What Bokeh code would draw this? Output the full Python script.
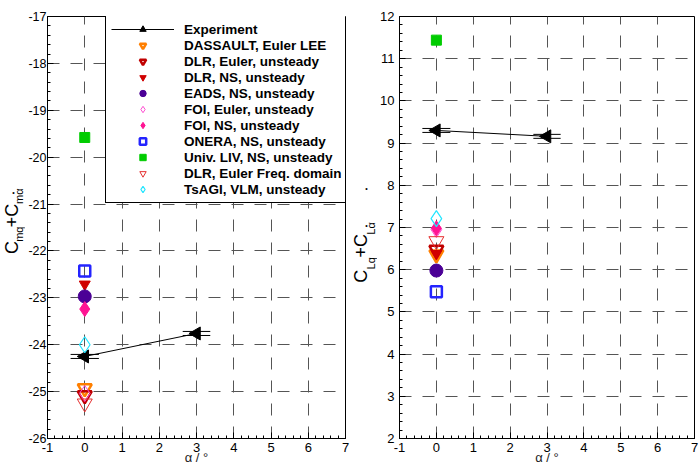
import math
import numpy as np
from bokeh.plotting import figure
from bokeh.layouts import row
from bokeh.models import FixedTicker, Legend, LegendItem, Label, Range1d
from bokeh.embed import file_html
from bokeh.resources import INLINE

# ---------------- data ----------------
alpha_ticks = [-1, 0, 1, 2, 3, 4, 5, 6, 7]
alpha_tick_labels = ["-1", "0", "1", "2", "3", "4", "5", "6", "7"]
cm_ticks = [-26, -25, -24, -23, -22, -21, -20, -19, -18, -17]
cm_tick_labels = ["-26", "-25", "-24", "-23", "-22", "-21", "-20", "-19", "-18", "-17"]
cl_ticks = [2, 3, 4, 5, 6, 7, 8, 9, 10, 11, 12]
cl_tick_labels = ["2", "3", "4", "5", "6", "7", "8", "9", "10", "11", "12"]

series_names = [
    "DASSAULT, Euler LEE",
    "DLR, Euler, unsteady",
    "DLR, NS, unsteady",
    "EADS, NS, unsteady",
    "FOI, Euler, unsteady",
    "FOI, NS, unsteady",
    "ONERA, NS, unsteady",
    "Univ. LIV, NS, unsteady",
    "DLR, Euler Freq. domain",
    "TsAGI, VLM, unsteady",
]
series_alpha = [0, 0, 0, 0, 0, 0, 0, 0, 0, 0]
cm_values = [-24.93, -25.08, -22.71, -22.97, -25.04, -23.24, -22.43, -19.58, -25.25, -24.00]
cl_values = [6.36, 6.47, 6.38, 5.98, 6.95, 6.98, 5.48, 11.44, 6.68, 7.21]

exp_alpha = [0.0, 3.0]
exp_cm = [-24.25, -23.76]
exp_cl = [9.30, 9.16]
exp_alpha_halfrange = [0.38, 0.37]

# ---------------- styles ----------------
styles = [
    dict(marker="inverted_triangle", line_color="#FF7F00", fill_color=None, line_width=2.5, size=14),
    dict(marker="inverted_triangle", line_color="#C00000", fill_color=None, line_width=2.5, size=14),
    dict(marker="inverted_triangle", line_color="#D00000", fill_color="#D00000", line_width=1, size=11),
    dict(marker="circle", line_color="#4B0096", fill_color="#4B0096", line_width=1, size=13),
    dict(marker="diamond", line_color="#FF4DD2", fill_color=None, line_width=1, size=16),
    dict(marker="diamond", line_color="#FF1493", fill_color="#FF1493", line_width=1, size=15),
    dict(marker="square", line_color="#2424FF", fill_color=None, line_width=2.5, size=11),
    dict(marker="square", line_color="#00CC00", fill_color="#00CC00", line_width=1, size=10),
    dict(marker="inverted_triangle", line_color="#E53030", fill_color=None, line_width=1, size=15),
    dict(marker="diamond", line_color="#22E5FF", fill_color=None, line_width=1.2, size=16),
]

FONT = "Liberation Sans"
HEIGHT = 472
FRAME_TOP = 16
FRAME_BOTTOM = 438


def make_fig(width, border_left, frame_w, y_rng, yticks, ylabels, ystandoff, yfont):
    p = figure(
        width=width, height=HEIGHT, title=None,
        x_range=Range1d(-1, 7), y_range=Range1d(*y_rng),
        output_backend="svg", toolbar_location=None,
        min_border_left=border_left,
        min_border_right=width - border_left - frame_w,
        min_border_top=FRAME_TOP,
        min_border_bottom=HEIGHT - FRAME_BOTTOM,
    )
    p.background_fill_color = "white"
    p.border_fill_color = "white"
    p.outline_line_color = "black"
    p.outline_line_width = 1
    p.outline_line_alpha = 1

    x_minor = np.round(np.arange(-1, 7.0001, 0.2), 3).tolist()
    y_minor = np.round(np.arange(y_rng[0], y_rng[1] + 0.0001, 0.2), 3).tolist()
    p.xaxis.ticker = FixedTicker(ticks=alpha_ticks, minor_ticks=x_minor)
    p.yaxis.ticker = FixedTicker(ticks=yticks, minor_ticks=y_minor)
    p.xaxis.major_label_overrides = dict(zip(alpha_ticks, alpha_tick_labels))
    p.yaxis.major_label_overrides = dict(zip(yticks, ylabels))
    for ax in (p.xaxis, p.yaxis):
        ax.major_tick_in = 6
        ax.major_tick_out = 0
        ax.minor_tick_in = 3
        ax.minor_tick_out = 0
        ax.axis_line_color = "black"
        ax.major_tick_line_color = "black"
        ax.minor_tick_line_color = "black"
        ax.major_label_text_font = FONT
        ax.major_label_text_font_size = "13px"
        ax.major_label_text_color = "black"
    p.yaxis.major_label_text_font_size = yfont
    p.yaxis.major_label_standoff = ystandoff
    p.xaxis.major_label_standoff = 4
    p.xaxis.axis_label = "α / °"
    p.xaxis.axis_label_text_font = FONT
    p.xaxis.axis_label_text_font_style = "normal"
    p.xaxis.axis_label_text_font_size = "13px"
    p.xaxis.axis_label_text_color = "#222222"
    p.xaxis.axis_label_standoff = -5

    p.xgrid.ticker = FixedTicker(ticks=alpha_ticks)
    p.ygrid.ticker = FixedTicker(ticks=yticks)
    for g in (p.xgrid, p.ygrid):
        g.grid_line_color = "#555555"
        g.grid_line_dash = "12 11"
        g.grid_line_width = 1
    return p


def add_data(p, yvals, exp_y, dy):
    rends = []
    lo = [a - h for a, h in zip(exp_alpha, exp_alpha_halfrange)]
    hi = [a + h for a, h in zip(exp_alpha, exp_alpha_halfrange)]
    p.segment(x0=lo, x1=hi, y0=[v + dy for v in exp_y], y1=[v + dy for v in exp_y],
              line_color="black", line_width=1)
    p.segment(x0=lo, x1=hi, y0=[v - dy for v in exp_y], y1=[v - dy for v in exp_y],
              line_color="black", line_width=1)
    ln = p.line(exp_alpha, exp_y, line_color="black", line_width=1)
    mk = p.scatter(exp_alpha, exp_y, marker="triangle", angle=math.pi / 2, size=13,
                   line_color="black", fill_color="black")
    rends.append([ln, mk])
    for i, st in enumerate(styles):
        r = p.scatter([series_alpha[i]], [yvals[i]], **st)
        rends.append([r])
    return rends


def label_fig(width, page_x0, parts, dots):
    """A narrow strip holding the rotated y-axis title (with subscripts).
    Each part is (text, centre x on page, centre y on page, font size)."""
    f = figure(width=width, height=HEIGHT, title=None,
               x_range=Range1d(0, width), y_range=Range1d(0, HEIGHT),
               x_axis_location=None, y_axis_location=None,
               output_backend="svg", toolbar_location=None, min_border=0)
    f.xgrid.visible = False
    f.ygrid.visible = False
    f.outline_line_color = None
    f.background_fill_color = "white"
    f.border_fill_color = "white"
    for text, cx, cy, fs in parts:
        f.add_layout(Label(
            x=cx - page_x0, y=HEIGHT - cy,
            text=text, angle=math.pi / 2, text_align="center", text_baseline="middle",
            text_font=FONT, text_font_size=fs, text_color="black"))
    for dx, dyy in dots:
        f.add_layout(Label(
            x=dx - page_x0, y=HEIGHT - dyy,
            text="•", text_align="center", text_baseline="middle",
            text_font=FONT, text_font_size="7px", text_color="black"))
    return f


# ---------------- left y title strip (page x 0..25) ----------------
lbl1 = label_fig(25, 0,
                 [("C", 11, 258.5, "18px"), ("mq", 18.5, 243.5, "11px"),
                  ("+C", 11, 222.5, "18px"), ("mα", 18.5, 201, "11px")],
                 [(13, 196.5)])

# ---------------- left figure (page x 25..350) ----------------
p1 = make_fig(325, 20, 300, (-26, -17), cm_ticks, cm_tick_labels, 1, "12.5px")
r1 = add_data(p1, cm_values, exp_cm, 0.043)

labels = ["Experiment"] + series_names
legend = Legend(
    items=[LegendItem(label=lab, renderers=rs) for lab, rs in zip(labels, r1)],
    location=(58, FRAME_BOTTOM - 203),
    orientation="vertical",
    glyph_width=63, glyph_height=16, spacing=0, padding=5,
    label_standoff=10, label_height=16,
    label_text_font=FONT, label_text_font_style="bold", label_text_font_size="13.5px",
    label_text_color="black",
    border_line_color="black", border_line_width=1, border_line_alpha=1,
    background_fill_color="white", background_fill_alpha=1,
    margin=0,
)
p1.add_layout(legend)

# ---------------- right y title strip (page x 350..377) ----------------
lbl2 = label_fig(27, 350,
                 [("C", 360.7, 290.5, "18px"), ("Lq", 370.5, 276, "11px"),
                  ("+C", 360.7, 256.3, "18px"), ("Lα", 370.5, 237, "11px")],
                 [(366, 234), (366, 192)])

# ---------------- right figure (page x 377..699) ----------------
p2 = make_fig(322, 21, 296, (2, 12), cl_ticks, cl_tick_labels, 5, "13px")
add_data(p2, cl_values, exp_cl, 0.047)

layout = row(lbl1, p1, lbl2, p2)
open("out.html", "w").write(file_html(layout, INLINE))
